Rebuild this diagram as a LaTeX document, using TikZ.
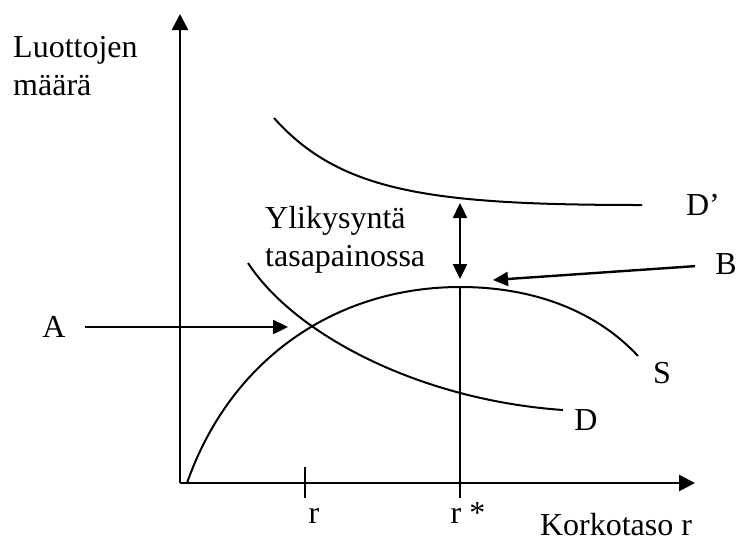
\documentclass[tikz,border=0pt]{standalone}
\usepackage{fontspec}
\setmainfont{Liberation Serif}
\usetikzlibrary{arrows.meta}

\begin{document}
\begin{tikzpicture}[
  x=1pt, y=-1pt,
  font=\fontsize{32}{38}\selectfont,
  akseli/.style={line width=2.6pt, -{Triangle[length=16pt,width=16pt]}},
  kayra/.style={line width=2pt},
  nuoli/.style={line width=2.4pt, -{Triangle[length=15pt,width=14pt]}},
  teksti/.style={inner sep=0pt}
]
\useasboundingbox (0,0) rectangle (738,542);

% akselit
\coordinate (origo) at (180,483);
\coordinate (ypaa) at (180,14);
\coordinate (xpaa) at (695,483);
\draw[akseli] (origo) -- (ypaa);
\draw[akseli] (origo) -- (xpaa);

\node[teksti, align=left, anchor=north west] (luotot) at (13,36) {Luottojen\\määrä};
\node[teksti, anchor=base] (korko) at (616,535) {Korkotaso r};

% kayrat
\coordinate (huippu) at (460,287);
\draw[kayra] (187,483) .. controls (232,355) and (340,287) .. (huippu)
  .. controls (540,287) and (600,315) .. (638,356);
\draw[kayra] (248,263) .. controls (295,335) and (420,400) .. (563,410);
\draw[kayra] (274,118) .. controls (340,192) and (430,205) .. (642,205);

\node[teksti] (Dpilkku) at (703,205) {D’};
\node[teksti] (S) at (662,373) {S};
\node[teksti] (D) at (586,420) {D};

% r ja r*
\coordinate (rtick) at (305,467);
\coordinate (rala) at (305,498);
\coordinate (rtahtiala) at (460,498);
\draw[line width=2pt] (rtick) -- (rala);
\draw[line width=2pt] (huippu) -- (rtahtiala);
\node[teksti, anchor=base] (r) at (314,523) {r};
\node[teksti, anchor=base] (rtahti) at (468,523) {r *};

% ylikysynta
\node[teksti, align=left, anchor=north west] (yli) at (265,206) {Ylikysyntä\\tasapainossa};
\coordinate (ylaraja) at (460,203);
\coordinate (alaraja) at (460,279);
\draw[nuoli, {Triangle[length=15pt,width=14pt]}-{Triangle[length=15pt,width=14pt]}] (ylaraja) -- (alaraja);

% A ja B
\node[teksti] (A) at (54,327) {A};
\coordinate (Akarki) at (288,327);
\draw[nuoli, shorten <=19pt] (A) -- (Akarki);
\node[teksti] (B) at (726,264) {B};
\coordinate (Bkarki) at (493,280);
\draw[nuoli, shorten <=20pt] (B) -- (Bkarki);
\end{tikzpicture}
\end{document}
